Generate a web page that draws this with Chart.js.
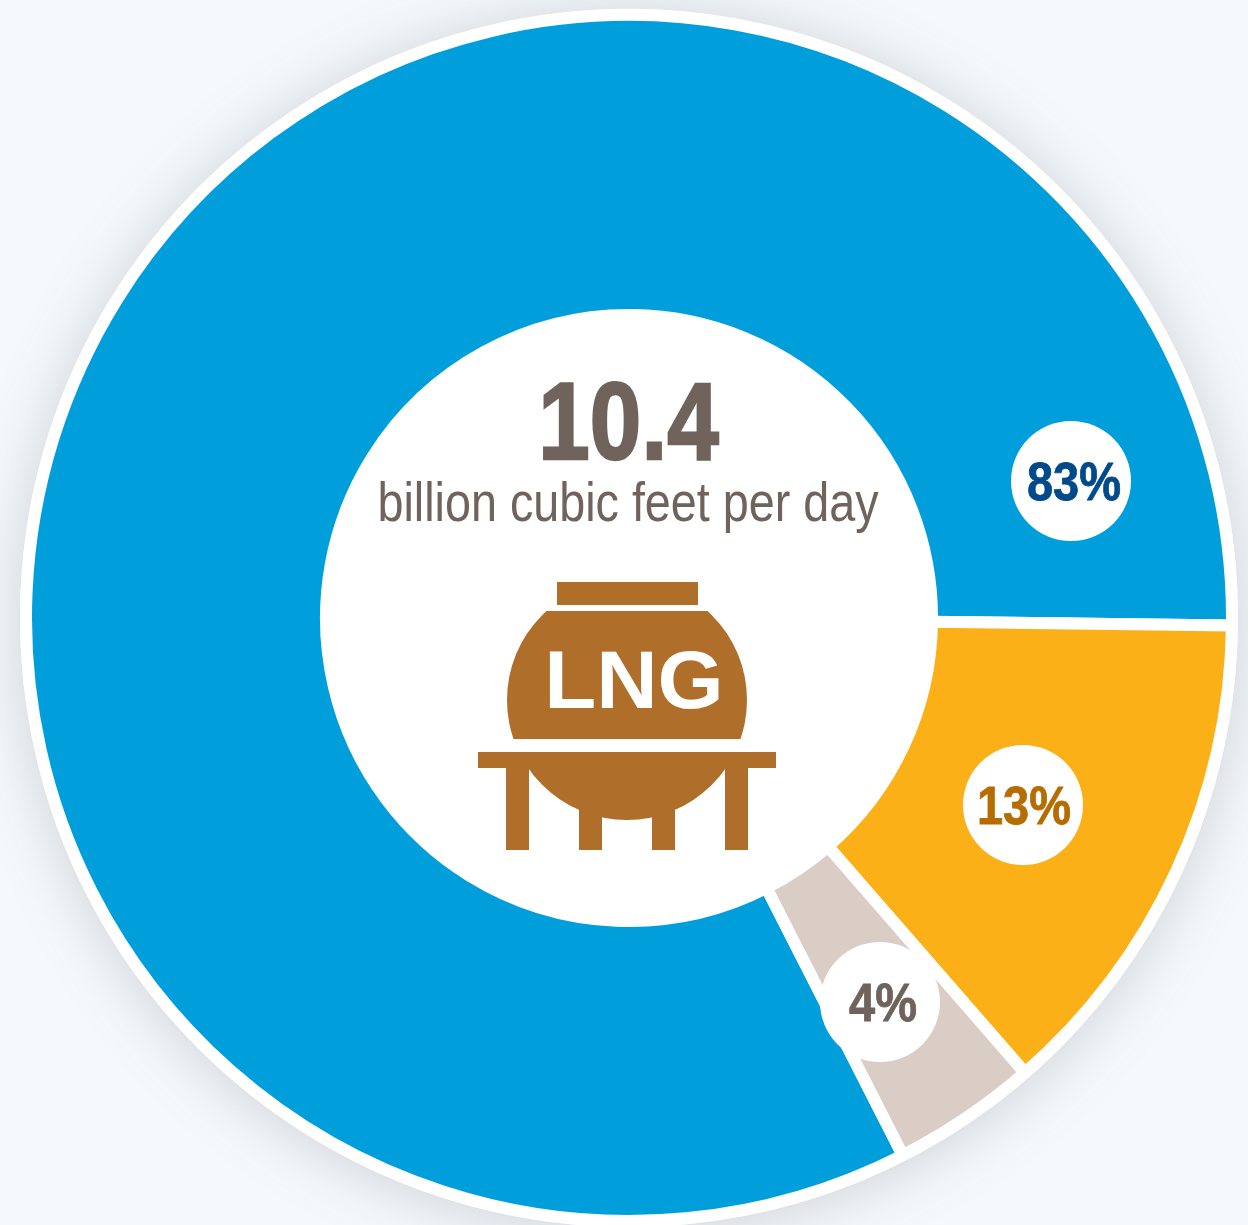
<!DOCTYPE html>
<html>
<head>
<meta charset="utf-8">
<title>LNG</title>
<script src="https://cdn.jsdelivr.net/npm/chart.js@4"></script>
<style>
  html, body { margin: 0; padding: 0; background: #f4f9fd; overflow: hidden; }
  #wrap { position: relative; width: 1248px; height: 1225px; }
</style>
</head>
<body>
<div id="wrap"><canvas id="ring" width="1248" height="1225"></canvas></div>
<script>
// ====== Data ======
const categories = ["Blue share", "Yellow share", "Tan share"];
const shareValues = [82.7, 13.4, 3.9];
const shareLabels = ["83%", "13%", "4%"];
const totalValue = "10.4";
const totalUnit = "billion cubic feet per day";
const iconLabel = "LNG";

// ====== Styles ======
const sliceColors = ["#009fdc", "#fbb017", "#d9cdc6"];
const labelColors = ["#004a8c", "#b56d00", "#6f635b"];
const TEXT_COLOR = "#6f635b";
const ICON_COLOR = "#b06e2b";
const FONT = '"Liberation Sans"';

// offset of each white bubble from the ring centre, and of its text from the bubble
const bubbleOffsets = [[442, -137], [394, 187], [251, 384]];
const labelNudge = [3, 1, 3];
const BUBBLE_RADIUS = 60;

// ====== Plugins ======
const backdrop = {
  id: 'backdrop',
  beforeDatasetsDraw(chart) {
    const { ctx } = chart;
    const arc = chart.getDatasetMeta(0).data[0];
    ctx.save();
    ctx.shadowColor = 'rgba(95,100,105,0.26)';
    ctx.shadowBlur = 60;
    ctx.shadowOffsetY = 4;
    ctx.fillStyle = '#fff';
    ctx.beginPath();
    ctx.arc(arc.x, arc.y, arc.outerRadius + 6, 0, Math.PI * 2);
    ctx.fill();
    ctx.restore();
  }
};

// no narrow heavy font is installed: squeeze the normal one sideways, thicken with a stroke
function fillNarrow(ctx, text, x, y, ratio, weight) {
  const width = ctx.measureText(text).width * ratio;
  ctx.fillText(text, x, y, width);
  ctx.strokeStyle = ctx.fillStyle;
  ctx.lineWidth = weight;
  ctx.lineJoin = 'miter';
  ctx.strokeText(text, x, y, width);
}

function drawIcon(ctx, cx, cy) {
  // cx, cy = tank sphere centre
  const r = 120;
  ctx.fillStyle = ICON_COLOR;
  ctx.fillRect(cx - 70, cy - 118, 141, 23);

  // upper part of the tank
  ctx.save();
  ctx.beginPath();
  ctx.rect(cx - r - 1, cy - 89, r * 2 + 2, 128);
  ctx.clip();
  ctx.beginPath();
  ctx.arc(cx, cy, r, 0, Math.PI * 2);
  ctx.fill();
  ctx.restore();

  // lower part of the tank
  ctx.save();
  ctx.beginPath();
  ctx.rect(cx - r - 1, cy + 52, r * 2 + 2, r);
  ctx.clip();
  ctx.beginPath();
  ctx.arc(cx, cy, r, 0, Math.PI * 2);
  ctx.fill();
  ctx.restore();

  // platform and legs
  ctx.fillRect(cx - 149, cy + 52, 298, 16);
  [-121, -48, 25, 98].forEach(x => ctx.fillRect(cx + x, cy + 60, 23, 90));

  // the label runs a little wider than the font
  ctx.save();
  ctx.fillStyle = '#fff';
  ctx.font = 'bold 81px ' + FONT;
  ctx.textAlign = 'center';
  ctx.textBaseline = 'alphabetic';
  ctx.translate(cx + 7, cy + 8);
  ctx.scale(1.05, 1);
  ctx.fillText(iconLabel, 0, 0);
  ctx.restore();
}

const overlay = {
  id: 'overlay',
  afterDatasetsDraw(chart) {
    const { ctx } = chart;
    const arc = chart.getDatasetMeta(0).data[0];
    const cx = arc.x, cy = arc.y;
    ctx.save();
    ctx.textAlign = 'center';
    ctx.textBaseline = 'alphabetic';

    // percentage bubbles
    shareLabels.forEach((label, i) => {
      const bx = cx + bubbleOffsets[i][0], by = cy + bubbleOffsets[i][1];
      ctx.fillStyle = '#fff';
      ctx.beginPath();
      ctx.arc(bx, by, BUBBLE_RADIUS, 0, Math.PI * 2);
      ctx.fill();
      ctx.fillStyle = labelColors[i];
      ctx.font = 'bold 54px ' + FONT;
      fillNarrow(ctx, label, bx + labelNudge[i], by + 19, 0.87, 0.8);
    });

    // centre text
    ctx.fillStyle = TEXT_COLOR;
    ctx.font = 'bold 109px ' + FONT;
    fillNarrow(ctx, totalValue, cx - 0.5, cy - 159, 0.85, 2.4);
    ctx.font = '56px ' + FONT;
    ctx.fillText(totalUnit, cx - 1, cy - 97, 501);

    drawIcon(ctx, cx - 2, cy + 82);
    ctx.restore();
  }
};

// ====== Chart ======
new Chart(document.getElementById('ring').getContext('2d'), {
  type: 'doughnut',
  data: {
    labels: categories,
    datasets: [{
      data: shareValues,
      backgroundColor: sliceColors,
      borderColor: '#fff',
      borderWidth: 12,
      hoverOffset: 0
    }]
  },
  options: {
    responsive: false,
    animation: false,
    rotation: 153,
    radius: 603,
    cutout: '50.25%',
    layout: { padding: { left: 10, top: 11 } },
    plugins: {
      legend: { display: false },
      tooltip: { enabled: false }
    }
  },
  plugins: [backdrop, overlay]
});
</script>
</body>
</html>
